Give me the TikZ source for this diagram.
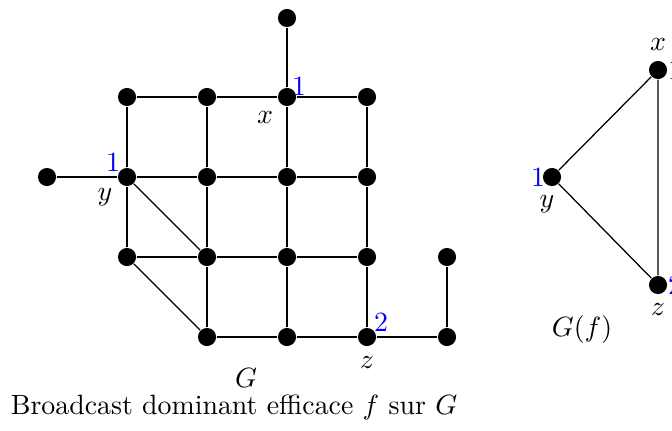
\documentclass[tikz,border=0pt]{standalone}
\begin{document}
\begin{tikzpicture}[x=0.359pt,y=-0.359pt,
  vtx/.style={circle,fill=black,inner sep=0pt,minimum size=6.5pt},
  num/.style={text=blue,inner sep=0pt},
  lbl/.style={inner sep=0pt},
  edge/.style={line width=0.45pt}]
\useasboundingbox (0,0) rectangle (672,430);
% vertices of G
\node[vtx] (t) at (287,18) {};
\node[vtx] (a1) at (127,97) {};
\node[vtx] (a2) at (207,97) {};
\node[vtx] (x) at (287,97) {};
\node[vtx] (a4) at (367,97) {};
\node[vtx] (b0) at (47,177) {};
\node[vtx] (y) at (127,177) {};
\node[vtx] (b2) at (207,177) {};
\node[vtx] (b3) at (287,177) {};
\node[vtx] (b4) at (367,177) {};
\node[vtx] (c1) at (127,257) {};
\node[vtx] (c2) at (207,257) {};
\node[vtx] (c3) at (287,257) {};
\node[vtx] (c4) at (367,257) {};
\node[vtx] (c5) at (447,257) {};
\node[vtx] (d2) at (207,337) {};
\node[vtx] (d3) at (287,337) {};
\node[vtx] (z) at (367,337) {};
\node[vtx] (d5) at (447,337) {};
% edges
\draw[edge] (a1) -- (a2) -- (x) -- (a4);
\draw[edge] (b0) -- (y) -- (b2) -- (b3) -- (b4);
\draw[edge] (c1) -- (c2) -- (c3) -- (c4);
\draw[edge] (d2) -- (d3) -- (z) -- (d5);
\draw[edge] (a1) -- (y) -- (c1);
\draw[edge] (a2) -- (b2) -- (c2) -- (d2);
\draw[edge] (t) -- (x) -- (b3) -- (c3) -- (d3);
\draw[edge] (a4) -- (b4) -- (c4) -- (z);
\draw[edge] (c5) -- (d5);
\draw[edge] (y) -- (c2);
\draw[edge] (c1) -- (d2);
% labels
\node[lbl] (lx) at (265,118) {$x$};
\node[num] (nx) at (299,86) {1};
\node[lbl] (ly) at (105,197) {$y$};
\node[num] (ny) at (113,162) {1};
\node[lbl] (lz) at (367,362) {$z$};
\node[num] (nz) at (381,322) {2};
\node[lbl] (lG) at (246,378) {$G$};
\node[lbl] (cap) at (234,407) {Broadcast dominant efficace $f$ sur $G$};
% G(f)
\node[vtx] (X) at (658,70) {};
\node[vtx] (Y) at (552,177) {};
\node[vtx] (Z) at (658,285) {};
\draw[edge] (X) -- (Y) -- (Z) -- (X);
\node[lbl] (lX) at (658,45) {$x$};
\node[num] (nX) at (675,70) {1};
\node[lbl] (lY) at (547,204) {$y$};
\node[num] (nY) at (538,177) {1};
\node[lbl] (lZ) at (658,309) {$z$};
\node[num] (nZ) at (675,285) {2};
\node[lbl] (lGf) at (582,330) {$G(f)$};
\end{tikzpicture}
\end{document}
